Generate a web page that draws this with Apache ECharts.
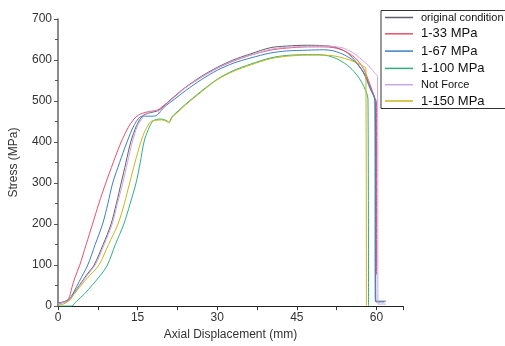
<!DOCTYPE html>
<html><head><meta charset="utf-8">
<script src="https://cdn.jsdelivr.net/npm/echarts@6/dist/echarts.min.js"></script>
<style>html,body{margin:0;padding:0;background:#fff}#c{width:505px;height:346px}</style>
</head><body><div id="c"></div>
<script>
const seriesNames = ["original condition","1-33 MPa","1-67 MPa","1-100 MPa","Not Force","1-150 MPa"];
const xTicks = [0,15,30,45,60];
const yTicks = [0,100,200,300,400,500,600,700];

const originalCondition = [[0,8],[1,10],[2,15],[3,32],[4,50],[5.5,78],[6.8,100],[8.5,150],[10,200],[11,250],[11.9,300],[12.8,350],[13.7,400],[14.8,440],[15.8,462],[16.5,468],[17.5,472],[18.5,475],[19.3,480],[20.5,495],[22,512],[24,533],[27,560],[30,582],[33,600],[36.3,615],[40,630],[43,634],[47,636],[50,635],[52,632],[54,622],[55,612],[56.5,590],[58,560],[58.9,530],[59.7,505],[59.8,12],[61.8,12]];
const mpa33 = [[0,5],[1,10],[2,18],[2.6,45],[3.2,70],[4.1,100],[5.3,150],[6.5,200],[7.7,250],[9.0,300],[10.4,350],[11.9,400],[13.2,435],[14.3,456],[15.2,466],[15.9,470],[17,474],[18,476],[18.8,478],[19.5,485],[21,500],[23.7,530],[27,558],[30,580],[33,597],[36.3,612],[40,624],[43,629],[47,632],[50,632],[52,630],[54,622],[56,605],[57.5,580],[58.8,540],[59.6,510],[60.0,497],[60.0,77]];
const mpa67 = [[0,5],[1,9],[2,14],[3,35],[4,60],[5.6,100],[7,150],[8.4,200],[9.4,250],[10.3,300],[11.6,350],[13.0,400],[14.3,440],[15.6,462],[16.5,463],[17.5,463],[18.4,464],[19,470],[20,485],[22,505],[24,525],[27,552],[30,575],[33,592],[36.3,605],[40,617],[43,622],[47,624],[50,625],[52,622],[54,612],[56,595],[57.5,570],[58.8,530],[59.8,497],[59.9,10],[61.5,10]];
const mpa100 = [[0,0],[2.5,0],[3.5,12],[5,30],[6.5,52],[8,75],[9.3,100],[10.8,150],[12.4,200],[13.6,250],[14.7,300],[15.5,350],[16.2,400],[17,430],[17.8,450],[18.5,455],[19.5,456],[20.5,452],[20.9,448],[21.5,462],[23,480],[24,492],[27,524],[30,553],[33,574],[36.3,590],[40,605],[43,611],[47,613],[49,613],[51,610],[53,600],[55,582],[56.5,560],[57.6,536],[58.4,505],[58.5,0]];
const notForce = [[0,6],[1,9],[2,13],[3,30],[4,48],[5.5,75],[7,100],[8.7,150],[10.2,200],[11.2,250],[12.2,300],[13.1,350],[14,400],[15,440],[16,460],[17,472],[18,476],[18.7,478],[19.1,470],[19.5,478],[20.5,493],[22,510],[24,532],[27,558],[30,580],[33,598],[36.3,612],[40,626],[43,631],[47,633],[50,634],[52,633],[54,628],[56,614],[57.5,598],[58.8,582],[59.7,568],[60.2,560],[60.3,5],[61.8,5]];
const mpa150 = [[0,2],[1,5],[2,12],[3,28],[4,45],[5.5,68],[7.7,100],[9.5,150],[11.3,200],[12.5,250],[13.5,300],[14.5,350],[15.6,400],[16.5,430],[17.5,450],[18.5,453],[19.5,454],[20.5,450],[20.9,447],[21.5,460],[23,478],[24,490],[27,522],[30,552],[33,572],[36.3,588],[40,603],[43,609],[47,612],[50,612],[52,610],[54,604],[56,595],[57.5,585],[58,580],[58.1,0]];

const allData = [originalCondition, mpa33, mpa67, mpa100, notForce, mpa150];
const colors = ["#5f5f66","#e8506a","#3b7fc4","#2fae7e","#c9a5e6","#c9b41c"];
const legendFont = [11,13,13,13,11,13];

const chart = echarts.init(document.getElementById('c'), null, {renderer:'canvas'});
chart.setOption({
  animation:false,
  backgroundColor:'#fff',
  textStyle:{fontFamily:'Liberation Sans, Arial, sans-serif'},
  grid:{left:57,right:102,top:19,bottom:37},
  graphic:[{type:'rect',shape:{x:381,y:10.5,width:130,height:98},style:{fill:'none',stroke:'#333',lineWidth:1}}],
  legend:{
    orient:'vertical', left:385, top:12, itemWidth:28, itemHeight:1.5, itemGap:4.3,
    padding:0, icon:'rect',
    data: seriesNames.map((n,i)=>({name:n, textStyle:{fontSize:legendFont[i], color:'#111', padding:[0,0,0,3]}})),
    textStyle:{color:'#111'}
  },
  xAxis:{
    type:'value', min:0, max:65, interval:15,
    name:'Axial Displacement (mm)', nameLocation:'middle', nameGap:22,
    nameTextStyle:{fontSize:12,color:'#333'},
    axisLine:{show:true,lineStyle:{color:'#222',width:1}},
    axisTick:{show:true,inside:false,length:4,lineStyle:{color:'#333'}},
    minorTick:{show:true,splitNumber:2,length:4,lineStyle:{color:'#333'}},
    splitLine:{show:false},
    axisLabel:{fontSize:12,color:'#333',margin:6,showMaxLabel:false,
      formatter:v=>xTicks.includes(v)?String(v):''}
  },
  yAxis:{
    type:'value', min:0, max:700, interval:100,
    name:'Stress (MPa)', nameLocation:'middle', nameGap:38,
    nameTextStyle:{fontSize:12,color:'#333'},
    axisLine:{show:true,lineStyle:{color:'#666',width:1.5}},
    axisTick:{show:true,inside:false,length:4,lineStyle:{color:'#555'}},
    minorTick:{show:true,splitNumber:2,length:3,lineStyle:{color:'#555'}},
    splitLine:{show:false},
    axisLabel:{fontSize:12,color:'#333',margin:6,formatter:v=>yTicks.includes(v)?String(v):''}
  },
  series: seriesNames.map((n,i)=>({
    name:n, type:'line', data:allData[i], showSymbol:false, symbol:'none',
    smooth:0.3, lineStyle:{width:1,color:colors[i]}, itemStyle:{color:colors[i]}, z:2+i
  }))
});
</script></body></html>
